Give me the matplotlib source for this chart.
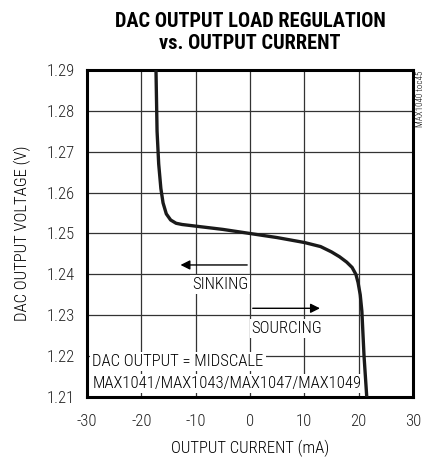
import matplotlib
matplotlib.use("Agg")
import matplotlib.pyplot as plt

# ── Datos ────────────────────────────────────────────────────────────────
corriente_ma = [-17.3, -17.1, -16.8, -16.4, -16.0, -15.4, -14.6, -13.6, -12.5,
                -10.0, -5.0, 0.0, 5.0, 10.0, 13.0, 15.0, 16.5, 17.8, 18.8,
                19.5, 19.9, 20.3, 20.6, 21.0, 21.5]
tension_v = [1.2900, 1.2750, 1.2670, 1.2610, 1.2575, 1.2548, 1.2533, 1.2525, 1.2522,
             1.2518, 1.2510, 1.2500, 1.2490, 1.2478, 1.2468, 1.2455, 1.2443, 1.2430, 1.2417,
             1.2400, 1.2380, 1.2350, 1.2310, 1.2200, 1.2100]

x_ticks = [-30, -20, -10, 0, 10, 20, 30]
y_ticks = [1.21, 1.22, 1.23, 1.24, 1.25, 1.26, 1.27, 1.28, 1.29]
y_tick_labels = ["1.21", "1.22", "1.23", "1.24", "1.25", "1.26", "1.27", "1.28", "1.29"]

titulo = "DAC OUTPUT LOAD REGULATION\nvs. OUTPUT CURRENT"
etiqueta_x = "OUTPUT CURRENT (mA)"
etiqueta_y = "DAC OUTPUT VOLTAGE (V)"

# ── Estilo ───────────────────────────────────────────────────────────────
plt.rcParams["font.family"] = ["Roboto Condensed", "DejaVu Sans"]
plt.rcParams["font.weight"] = "light"
plt.rcParams["axes.labelweight"] = "light"
plt.rcParams["axes.unicode_minus"] = False

fs = 12
fig = plt.figure(figsize=(4.3, 4.58), dpi=100)
ax = fig.add_axes([0.2023, 0.1332, 0.758, 0.714])

ax.plot(corriente_ma, tension_v, color="#1a1a1a", lw=2.4, solid_capstyle="round", zorder=4)

ax.set_xlim(-30, 30)
ax.set_ylim(1.21, 1.29)
ax.set_xticks(x_ticks)
ax.set_yticks(y_ticks)
ax.set_yticklabels(y_tick_labels)
ax.tick_params(length=0, labelsize=fs, colors="#222222")
ax.tick_params(axis="x", pad=12)
ax.tick_params(axis="y", pad=9)
ax.grid(True, color="#333333", lw=0.9)
for s in ax.spines.values():
    s.set_linewidth(2.2)
    s.set_color("black")

ax.set_xlabel(etiqueta_x, fontsize=fs, fontweight="light", labelpad=8)
ax.set_ylabel(etiqueta_y, fontsize=fs, fontweight="light", labelpad=11)
ax.set_title(titulo, fontsize=14.7, fontweight="bold", pad=15, linespacing=1.2)

# ── Flechas y rótulos ────────────────────────────────────────────────────
ax.annotate("", xy=(-13.3, 1.2423), xytext=(0, 1.2423),
            arrowprops=dict(arrowstyle="-|>", color="black", lw=1.0, mutation_scale=14), zorder=5)
ax.annotate("", xy=(13.4, 1.2317), xytext=(0, 1.2317),
            arrowprops=dict(arrowstyle="-|>", color="black", lw=1.0, mutation_scale=14), zorder=5)

caja = dict(facecolor="white", edgecolor="none", pad=1.5)
estilo = dict(fontsize=fs, fontweight="light", va="center", bbox=caja, zorder=3)
ax.text(-0.3, 1.2375, "SINKING", ha="right", **estilo)
ax.text(0.3, 1.2267, "SOURCING", ha="left", **estilo)
ax.text(-29.0, 1.2186, "DAC OUTPUT = MIDSCALE", ha="left", **estilo)
ax.text(-29.0, 1.2134, "MAX1041/MAX1043/MAX1047/MAX1049", ha="left", **estilo)

fig.text(0.978, 0.845, "MAX1040 toc45", rotation=90, ha="center", va="top",
         fontsize=6.5, fontweight="light")

fig.savefig("out.png", dpi=100)
